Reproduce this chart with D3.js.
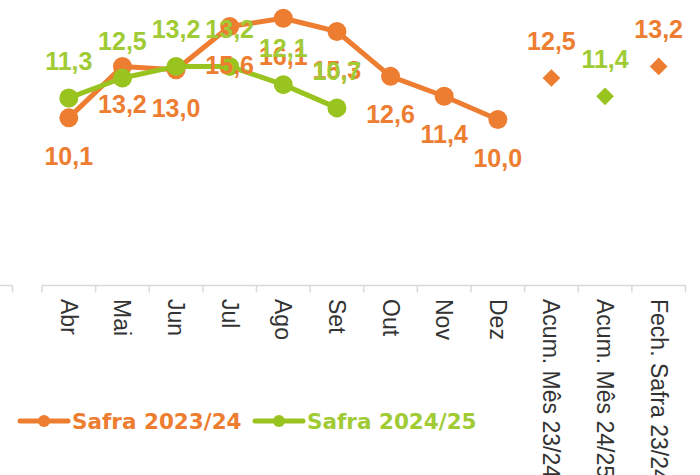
<!DOCTYPE html>
<html>
<head>
<meta charset="utf-8">
<script src="https://cdn.jsdelivr.net/npm/d3@7"></script>
<style>
  body { margin: 0; background: #fff; }
  svg { display: block; }
  .tick-label { font-family: 'Liberation Sans', sans-serif; font-size: 23px; fill: #333; }
  .val { font-family: 'Liberation Sans', sans-serif; font-weight: bold; font-size: 25px; }
  .legend-text { font-family: 'DejaVu Sans', sans-serif; font-weight: bold; font-size: 21.5px; }
</style>
</head>
<body>
<svg id="chart" width="700" height="475"></svg>
<script>
const categories = ['Abr', 'Mai', 'Jun', 'Jul', 'Ago', 'Set', 'Out', 'Nov', 'Dez',
  'Acum. Mês 23/24', 'Acum. Mês 24/25', 'Fech. Safra 23/24'];
const months2324 = ['Abr', 'Mai', 'Jun', 'Jul', 'Ago', 'Set', 'Out', 'Nov', 'Dez'];
const safra2324 = [10.1, 13.2, 13.0, 15.6, 16.1, 15.3, 12.6, 11.4, 10.0];
const months2425 = ['Abr', 'Mai', 'Jun', 'Jul', 'Ago', 'Set'];
const safra2425 = [11.3, 12.5, 13.2, 13.2, 12.1, 10.7];
const summaryCats = ['Acum. Mês 23/24', 'Acum. Mês 24/25', 'Fech. Safra 23/24'];
const summaryValues = [12.5, 11.4, 13.2];
const summarySeries = ['Safra 2023/24', 'Safra 2024/25', 'Safra 2023/24'];
const seriesNames = ['Safra 2023/24', 'Safra 2024/25'];

const colors = { 'Safra 2023/24': '#ED7D31', 'Safra 2024/25': '#99C31F' };
const labelColors = { 'Safra 2023/24': '#ED7D31', 'Safra 2024/25': '#A0CB35' };
const fmt = (v) => d3.format('.1f')(v).replace('.', ',');

const svg = d3.select('#chart');
const axisY = 285.5;

const x = d3.scaleBand().domain(categories).range([42, 685.5]).padding(0);
const y = d3.scaleLinear().domain([0, 17.2]).range([axisY, 0]);
const cx = (c) => x(c) + x.bandwidth() / 2;

// axis line + ticks at band boundaries
const axisG = svg.append('g').attr('transform', 'translate(0,' + axisY + ')');
axisG.append('line').attr('x1', 42).attr('x2', 685.5).attr('stroke', '#d9d9d9').attr('stroke-width', 1.5);
const bounds = categories.map((c) => x(c)).concat([x.range()[1]]);
axisG.selectAll('.tk').data(bounds).enter().append('line')
  .attr('x1', (d) => d).attr('x2', (d) => d).attr('y1', 0).attr('y2', 7)
  .attr('stroke', '#d9d9d9').attr('stroke-width', 1.5);
// stub of the neighbouring axis on the left
axisG.append('line').attr('x1', 0).attr('x2', 12.5).attr('stroke', '#d9d9d9').attr('stroke-width', 1.5);
axisG.append('line').attr('x1', 12.5).attr('x2', 12.5).attr('y1', 0).attr('y2', 7)
  .attr('stroke', '#d9d9d9').attr('stroke-width', 1.5);

svg.append('g').selectAll('text').data(categories).enter().append('text')
  .attr('class', 'tick-label')
  .attr('transform', (d) => 'translate(' + cx(d) + ',299) rotate(90)')
  .attr('dy', '0.35em')
  .text((d) => d);

const line = d3.line().x((d) => cx(d[0])).y((d) => y(d[1]));

function drawSeries(name, months, values) {
  const pts = months.map((m, i) => [m, values[i]]);
  const g = svg.append('g');
  g.append('path').datum(pts).attr('d', line)
    .attr('fill', 'none').attr('stroke', colors[name]).attr('stroke-width', 5)
    .attr('stroke-linejoin', 'round');
  g.selectAll('circle').data(pts).enter().append('circle')
    .attr('cx', (d) => cx(d[0])).attr('cy', (d) => y(d[1])).attr('r', 9.5)
    .attr('fill', colors[name]);
  return pts;
}

const pts2324 = drawSeries('Safra 2023/24', months2324, safra2324);
const pts2425 = drawSeries('Safra 2024/25', months2425, safra2425);

// summary diamonds
const diamonds = summaryCats.map((c, i) => ({ cat: c, value: summaryValues[i], series: summarySeries[i] }));
svg.append('g').selectAll('path').data(diamonds).enter().append('path')
  .attr('d', d3.symbol().type(d3.symbolDiamond2).size(200))
  .attr('transform', (d) => 'translate(' + cx(d.cat) + ',' + y(d.value) + ')')
  .attr('fill', (d) => colors[d.series]);

// value labels
svg.append('g').selectAll('text').data(pts2324).enter().append('text')
  .attr('class', 'val').attr('text-anchor', 'middle')
  .attr('x', (d) => cx(d[0])).attr('y', (d) => y(d[1]) + 47)
  .attr('fill', labelColors['Safra 2023/24'])
  .text((d) => fmt(d[1]));
svg.append('g').selectAll('text').data(pts2425).enter().append('text')
  .attr('class', 'val').attr('text-anchor', 'middle')
  .attr('x', (d) => cx(d[0])).attr('y', (d) => y(d[1]) - 28)
  .attr('fill', labelColors['Safra 2024/25'])
  .text((d) => fmt(d[1]));
svg.append('g').selectAll('text').data(diamonds).enter().append('text')
  .attr('class', 'val').attr('text-anchor', 'middle')
  .attr('x', (d) => cx(d.cat)).attr('y', (d) => y(d.value) - 28)
  .attr('fill', (d) => labelColors[d.series])
  .text((d) => fmt(d.value));

// legend
const legendX = [20, 255];
const legend = svg.append('g').selectAll('g').data(seriesNames).enter().append('g')
  .attr('transform', (d, i) => 'translate(' + legendX[i] + ',421)');
legend.append('line').attr('x1', 0).attr('x2', 48)
  .attr('stroke', (d) => colors[d]).attr('stroke-width', 5).attr('stroke-linecap', 'round');
legend.append('circle').attr('cx', 24).attr('r', 6).attr('fill', (d) => colors[d]);
legend.append('text').attr('class', 'legend-text')
  .attr('x', 52).attr('y', 8)
  .attr('fill', (d) => labelColors[d])
  .text((d) => d);
</script>
</body>
</html>
